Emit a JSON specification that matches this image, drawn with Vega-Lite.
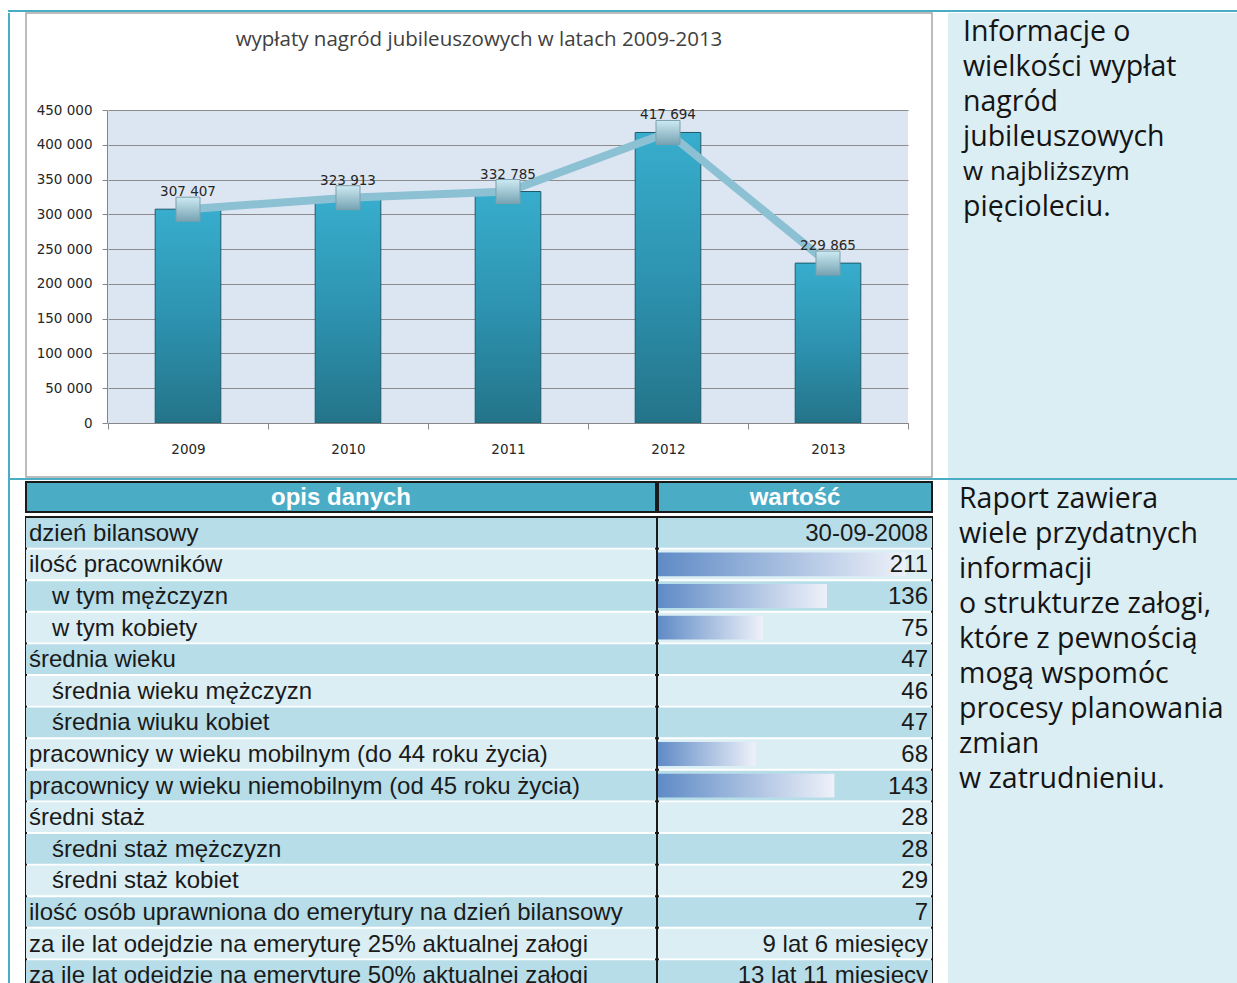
{
"$schema": "https://vega.github.io/schema/vega-lite/v6.json",
"background": "white",
"padding": {"left": 8, "top": 10, "right": 0, "bottom": 0},
"config": {"view": {"stroke": null}, "locale": {"number": {"decimal": ",", "thousands": " ", "grouping": [3], "currency": ["", " zł"]}}},
"datasets": {
  "payout": [
    {"year": "2009", "value": 307407},
    {"year": "2010", "value": 323913},
    {"year": "2011", "value": 332785},
    {"year": "2012", "value": 417694},
    {"year": "2013", "value": 229865}
  ],
  "table": [
    {"row": 1, "label": "dzień bilansowy", "level": 0, "value": "30-09-2008"},
    {"row": 2, "label": "ilość pracowników", "level": 0, "value": "211", "bar": 211},
    {"row": 3, "label": "w tym mężczyzn", "level": 1, "value": "136", "bar": 136},
    {"row": 4, "label": "w tym kobiety", "level": 1, "value": "75", "bar": 75},
    {"row": 5, "label": "średnia wieku", "level": 0, "value": "47"},
    {"row": 6, "label": "średnia wieku mężczyzn", "level": 1, "value": "46"},
    {"row": 7, "label": "średnia wiuku kobiet", "level": 1, "value": "47"},
    {"row": 8, "label": "pracownicy w wieku mobilnym (do 44 roku życia)", "level": 0, "value": "68", "bar": 68},
    {"row": 9, "label": "pracownicy w wieku niemobilnym (od 45 roku życia)", "level": 0, "value": "143", "bar": 143},
    {"row": 10, "label": "średni staż", "level": 0, "value": "28"},
    {"row": 11, "label": "średni staż mężczyzn", "level": 1, "value": "28"},
    {"row": 12, "label": "średni staż kobiet", "level": 1, "value": "29"},
    {"row": 13, "label": "ilość osób uprawniona do emerytury na dzień bilansowy", "level": 0, "value": "7"},
    {"row": 14, "label": "za ile lat odejdzie na emeryturę 25% aktualnej załogi", "level": 0, "value": "9 lat 6 miesięcy"},
    {"row": 15, "label": "za ile lat odejdzie na emeryturę 50% aktualnej załogi", "level": 0, "value": "13 lat 11 miesięcy"}
  ],
  "info1": [
    {"line": 1, "text": "Informacje o"},
    {"line": 2, "text": "wielkości wypłat"},
    {"line": 3, "text": "nagród"},
    {"line": 4, "text": "jubileuszowych"},
    {"line": 5, "text": "w najbliższym"},
    {"line": 6, "text": "pięcioleciu."}
  ],
  "info2": [
    {"line": 1, "text": "Raport zawiera"},
    {"line": 2, "text": "wiele przydatnych"},
    {"line": 3, "text": "informacji"},
    {"line": 4, "text": "o strukturze załogi,"},
    {"line": 5, "text": "które z pewnością"},
    {"line": 6, "text": "mogą wspomóc"},
    {"line": 7, "text": "procesy planowania"},
    {"line": 8, "text": "zmian"},
    {"line": 9, "text": "w zatrudnieniu."}
  ]
},
"spacing": 0,
"vconcat": [
  {"width": 1229, "height": 2, "view": {"fill": "#4bacc6", "stroke": null}, "data": {"values": [{}]}, "mark": {"type": "point", "opacity": 0, "size": 0, "filled": true, "strokeWidth": 0}, "encoding": {}},
  {"hconcat": [
    {"width": 2, "height": 976, "view": {"fill": "#4bacc6", "stroke": null}, "data": {"values": [{}]}, "mark": {"type": "point", "opacity": 0, "size": 0, "filled": true, "strokeWidth": 0}, "encoding": {}},
    {"vconcat": [
      {"hconcat": [
        {"width": 15, "height": 464, "data": {"values": [{}]}, "mark": {"type": "point", "opacity": 0, "size": 0, "filled": true, "strokeWidth": 0}, "encoding": {}},
        {
          "width": 906, "height": 464,
          "view": {"fill": "white", "stroke": "#a6a6a6", "strokeWidth": 1.5},
          "title": {"text": "wypłaty nagród jubileuszowych w latach 2009-2013", "orient": "top", "anchor": "middle", "frame": "group", "offset": -37, "font": "Open Sans", "fontSize": 20.5, "fontWeight": "normal", "color": "#404040"},
          "data": {"name": "payout"},
          "encoding": {
            "x": {"field": "year", "type": "nominal", "sort": null,
                  "scale": {"type": "band", "range": [82, 882], "paddingInner": 0, "paddingOuter": 0},
                  "axis": {"offset": -54, "tickBand": "extent", "tickSize": 6, "tickColor": "#868686", "domainColor": "#868686", "labelAngle": 0, "labelFont": "DejaVu Sans", "labelFontSize": 13.5, "labelColor": "#262626", "labelPadding": 13, "title": null, "grid": false}}
          },
          "layer": [
            {"mark": {"type": "rect", "fill": "#8aacd4", "opacity": 0.3},
             "encoding": {
               "y": {"datum": 450000, "type": "quantitative",
                     "scale": {"domain": [0, 450000], "range": [410, 97], "nice": false, "zero": true},
                     "axis": {"offset": -81, "values": [0, 50000, 100000, 150000, 200000, 250000, 300000, 350000, 400000, 450000], "format": ",d", "tickSize": 5, "tickColor": "#868686", "domainColor": "#868686", "grid": true, "gridColor": "#8d7e6d", "gridWidth": 1, "labelFont": "DejaVu Sans", "labelFontSize": 13.5, "labelColor": "#262626", "labelPadding": 10, "title": null}},
               "y2": {"datum": 0}
             }},
            {"mark": {"type": "bar", "width": {"band": 0.41},
                      "fill": {"gradient": "linear", "x1": 0, "y1": 0, "x2": 0, "y2": 1, "stops": [{"offset": 0, "color": "#38adcd"}, {"offset": 0.5, "color": "#2d93b0"}, {"offset": 1, "color": "#247489"}]},
                      "stroke": "#1d5a6b", "strokeWidth": 1},
             "encoding": {"y": {"field": "value", "type": "quantitative", "title": null}}},
            {"mark": {"type": "line", "stroke": "#8cc0d3", "strokeWidth": 8},
             "encoding": {"y": {"field": "value", "type": "quantitative", "title": null}}},
            {"mark": {"type": "square", "size": 576, "filled": true, "opacity": 1,
                      "fill": {"gradient": "linear", "x1": 0, "y1": 0, "x2": 0, "y2": 1, "stops": [{"offset": 0, "color": "#cdeaf2"}, {"offset": 1, "color": "#76a3b3"}]},
                      "stroke": "#7f9fab", "strokeWidth": 1},
             "encoding": {"y": {"field": "value", "type": "quantitative", "title": null}}},
            {"mark": {"type": "text", "dy": -17, "font": "DejaVu Sans", "fontSize": 13.5, "color": "#262626"},
             "encoding": {"y": {"field": "value", "type": "quantitative", "title": null},
                          "text": {"field": "value", "type": "quantitative", "format": ",d"}}}
          ]
        },
        {"width": 15, "height": 464, "data": {"values": [{}]}, "mark": {"type": "point", "opacity": 0, "size": 0, "filled": true, "strokeWidth": 0}, "encoding": {}},
        {
          "width": 290, "height": 465,
          "view": {"fill": "#dbeef4", "stroke": null},
          "data": {"name": "info1"},
          "mark": {"type": "text", "align": "left", "baseline": "middle", "dx": 15, "font": "Open Sans", "color": "#141414"},
          "encoding": {
            "x": {"datum": 0, "type": "quantitative", "scale": {"domain": [0, 1]}, "axis": null},
            "y": {"field": "line", "type": "quantitative", "scale": {"domain": [0.457, 13.743], "reverse": true, "nice": false, "zero": false}, "axis": null},
            "text": {"field": "text"},
            "size": {"condition": {"test": "datum.line === 5", "value": 26}, "value": 28.5}
          }
        }
      ], "spacing": 0},
      {"width": 1227, "height": 2, "view": {"fill": "#4bacc6", "stroke": null}, "data": {"values": [{}]}, "mark": {"type": "point", "opacity": 0, "size": 0, "filled": true, "strokeWidth": 0}, "encoding": {}},
      {"hconcat": [
        {"width": 15, "height": 509, "data": {"values": [{}]}, "mark": {"type": "point", "opacity": 0, "size": 0, "filled": true, "strokeWidth": 0}, "encoding": {}},
        {"vconcat": [
          {"width": 906, "height": 1, "data": {"values": [{}]}, "mark": {"type": "point", "opacity": 0, "size": 0, "filled": true, "strokeWidth": 0}, "encoding": {}},
          {"vconcat": [
            {"hconcat": [
              {"width": 630, "height": 30, "view": {"fill": "#4bacc6", "stroke": "#1a1a1a", "strokeWidth": 2},
               "data": {"values": [{"h": "opis danych"}]},
               "mark": {"type": "text", "font": "Liberation Sans", "fontWeight": "bold", "fontSize": 24, "color": "white", "baseline": "middle", "dy": 1},
               "encoding": {"text": {"field": "h"}}},
              {"width": 274, "height": 30, "view": {"fill": "#4bacc6", "stroke": "#1a1a1a", "strokeWidth": 2},
               "data": {"values": [{"h": "wartość"}]},
               "mark": {"type": "text", "font": "Liberation Sans", "fontWeight": "bold", "fontSize": 24, "color": "white", "baseline": "middle", "dy": 1},
               "encoding": {"text": {"field": "h"}}}
            ], "spacing": 0},
            {"hconcat": [
              {"width": 630, "height": 474, "view": {"fill": "white", "stroke": "#1a1a1a", "strokeWidth": 2},
               "data": {"name": "table"},
               "encoding": {"y": {"field": "row", "type": "ordinal", "scale": {"paddingInner": 0.06, "paddingOuter": 0.03}, "axis": null}},
               "layer": [
                 {"mark": {"type": "rect"},
                  "encoding": {"color": {"field": "row", "type": "ordinal", "scale": {"range": ["#b7dde8", "#dbeef4"]}, "legend": null}}},
                 {"mark": {"type": "text", "align": "left", "baseline": "middle", "dy": 1, "font": "Liberation Sans", "fontSize": 24, "color": "#1a1a1a"},
                  "encoding": {"x": {"field": "level", "type": "quantitative", "scale": {"domain": [0, 1], "range": [3, 26]}, "axis": null},
                               "text": {"field": "label"}}}
               ]},
              {"width": 274, "height": 474, "view": {"fill": "white", "stroke": "#1a1a1a", "strokeWidth": 2},
               "data": {"name": "table"},
               "encoding": {"y": {"field": "row", "type": "ordinal", "scale": {"paddingInner": 0.06, "paddingOuter": 0.03}, "axis": null}},
               "layer": [
                 {"mark": {"type": "rect"},
                  "encoding": {"color": {"field": "row", "type": "ordinal", "scale": {"range": ["#b7dde8", "#dbeef4"]}, "legend": null}}},
                 {"mark": {"type": "bar", "height": {"band": 0.8},
                           "fill": {"gradient": "linear", "x1": 0, "y1": 0, "x2": 1, "y2": 0, "stops": [{"offset": 0, "color": "#5f8bc6"}, {"offset": 1, "color": "#eef1f9"}]}},
                  "encoding": {"x": {"field": "bar", "type": "quantitative", "scale": {"domain": [-25, 236], "zero": false, "nice": false}, "axis": null},
                               "x2": {"datum": -25}}},
                 {"mark": {"type": "text", "align": "right", "baseline": "middle", "dx": -4, "dy": 1, "font": "Liberation Sans", "fontSize": 24, "color": "#1a1a1a"},
                  "encoding": {"x": {"value": "width"}, "text": {"field": "value"}}}
               ]}
            ], "spacing": 0}
          ], "spacing": 3}
        ], "spacing": 0},
        {"width": 15, "height": 509, "data": {"values": [{}]}, "mark": {"type": "point", "opacity": 0, "size": 0, "filled": true, "strokeWidth": 0}, "encoding": {}},
        {
          "width": 290, "height": 509,
          "view": {"fill": "#dbeef4", "stroke": null},
          "data": {"name": "info2"},
          "mark": {"type": "text", "align": "left", "baseline": "middle", "dx": 11, "font": "Open Sans", "fontSize": 28.5, "color": "#141414"},
          "encoding": {
            "x": {"datum": 0, "type": "quantitative", "scale": {"domain": [0, 1]}, "axis": null},
            "y": {"field": "line", "type": "quantitative", "scale": {"domain": [0.457, 15.0], "reverse": true, "nice": false, "zero": false}, "axis": null},
            "text": {"field": "text"}
          }
        }
      ], "spacing": 0}
    ], "spacing": 0}
  ], "spacing": 0}
]
}
